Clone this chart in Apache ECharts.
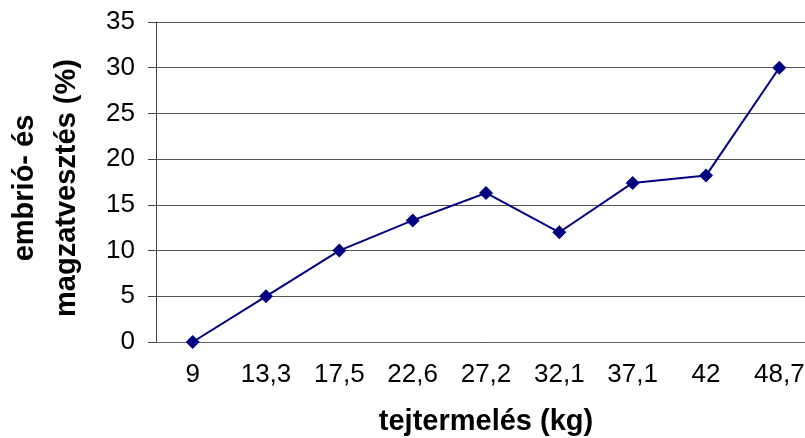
<!DOCTYPE html>
<html>
<head>
<meta charset="utf-8">
<script src="https://cdn.jsdelivr.net/npm/echarts@6/dist/echarts.min.js"></script>
<style>
html,body{margin:0;padding:0;background:#fff;}
#chart{width:805px;height:438px;}
</style>
</head>
<body>
<div id="chart"></div>
<script>
var categories = ['9', '13,3', '17,5', '22,6', '27,2', '32,1', '37,1', '42', '48,7'];
var values = [0, 5, 10, 13.3, 16.3, 12, 17.4, 18.2, 30];
var yTicks = [0, 5, 10, 15, 20, 25, 30, 35];
var xTitle = 'tejtermelés (kg)';
var yTitle = 'embrió- és\nmagzatvesztés (%)';

var chart = echarts.init(document.getElementById('chart'), null, {renderer: 'canvas'});
var FONT = '"Liberation Sans", Arial, sans-serif';
chart.setOption({
  animation: false,
  backgroundColor: '#ffffff',
  grid: {left: 156, top: 22, width: 660, height: 320, containLabel: false, outerBoundsMode: 'none'},
  xAxis: {
    type: 'category',
    data: categories,
    boundaryGap: true,
    name: xTitle,
    nameLocation: 'middle',
    nameGap: 65,
    nameTextStyle: {fontFamily: FONT, fontSize: 29, fontWeight: 'bold', color: '#000'},
    axisLine: {show: true, lineStyle: {color: '#666', width: 1}},
    axisTick: {show: false},
    axisLabel: {fontFamily: FONT, fontSize: 26, color: '#000', margin: 20, interval: 0},
    splitLine: {show: false}
  },
  yAxis: {
    type: 'value',
    min: yTicks[0],
    max: yTicks[yTicks.length - 1],
    interval: 5,
    name: yTitle,
    nameLocation: 'middle',
    nameGap: 68,
    nameTextStyle: {fontFamily: FONT, fontSize: 29, fontWeight: 'bold', color: '#000', lineHeight: 42, align: 'center', padding: [0, 12, 0, 0]},
    axisLine: {show: true, lineStyle: {color: '#444', width: 1}},
    axisTick: {show: true, inside: false, length: 8, lineStyle: {color: '#444'}},
    axisLabel: {fontFamily: FONT, fontSize: 26, color: '#000', margin: 21},
    splitLine: {show: true, lineStyle: {color: '#555', width: 1}}
  },
  series: [{
    type: 'line',
    data: values,
    symbol: 'diamond',
    symbolSize: 14,
    itemStyle: {color: '#000080'},
    lineStyle: {color: '#000080', width: 2},
    clip: false
  }]
});
</script>
</body>
</html>
